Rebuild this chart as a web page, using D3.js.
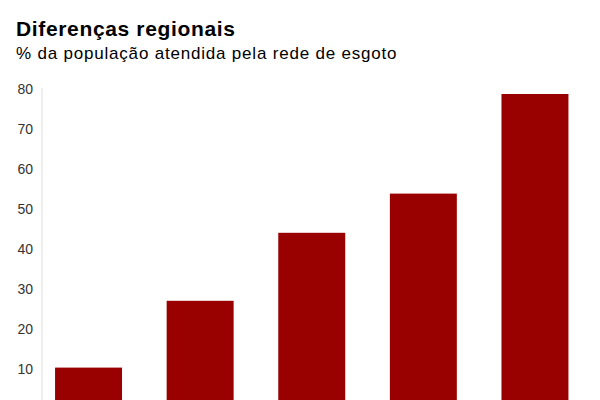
<!DOCTYPE html>
<html><head><meta charset="utf-8">
<script src="https://cdn.jsdelivr.net/npm/d3@7"></script>
<style>body{margin:0;background:#fff;overflow:hidden}</style>
</head><body>
<svg id="c" width="600" height="400"></svg>
<script>
const categories = ["Norte", "Nordeste", "Sul", "Centro-Oeste", "Sudeste"];
const values = [10.1, 26.8, 43.8, 53.6, 78.5];
const yTicks = [10, 20, 30, 40, 50, 60, 70, 80];

const svg = d3.select("#c");
const font = "'Liberation Sans', Arial, sans-serif";

svg.append("text").attr("x", 16).attr("y", 36)
  .attr("font-family", font).attr("font-size", 21).attr("font-weight", "bold")
  .attr("letter-spacing", 0.65)
  .attr("fill", "#000").text("Diferenças regionais");
svg.append("text").attr("x", 16).attr("y", 59)
  .attr("font-family", font).attr("font-size", 17)
  .attr("letter-spacing", 0.8)
  .attr("fill", "#000").text("% da população atendida pela rede de esgoto");

const y = d3.scaleLinear().domain([0, 80]).range([408, 88]);
const x = d3.scaleBand().domain(categories).range([42, 581.5])
  .paddingInner(0.4).paddingOuter(0.117);

const yAxis = svg.append("g").attr("transform", "translate(42,0)")
  .call(d3.axisLeft(y).tickValues(yTicks).tickSize(0).tickPadding(9));
yAxis.select(".domain").attr("stroke", "#ddd").attr("d", `M0,${y(80)}V${y(0)}`);
yAxis.selectAll("text").attr("font-family", font).attr("font-size", 14)
  .attr("fill", "#333").attr("dy", "0.42em");

svg.selectAll("rect.bar").data(values).join("rect").attr("class", "bar")
  .attr("x", (d, i) => x(categories[i]))
  .attr("width", x.bandwidth())
  .attr("y", d => y(d))
  .attr("height", d => y(0) - y(d))
  .attr("fill", "#990000");
</script>
</body></html>
